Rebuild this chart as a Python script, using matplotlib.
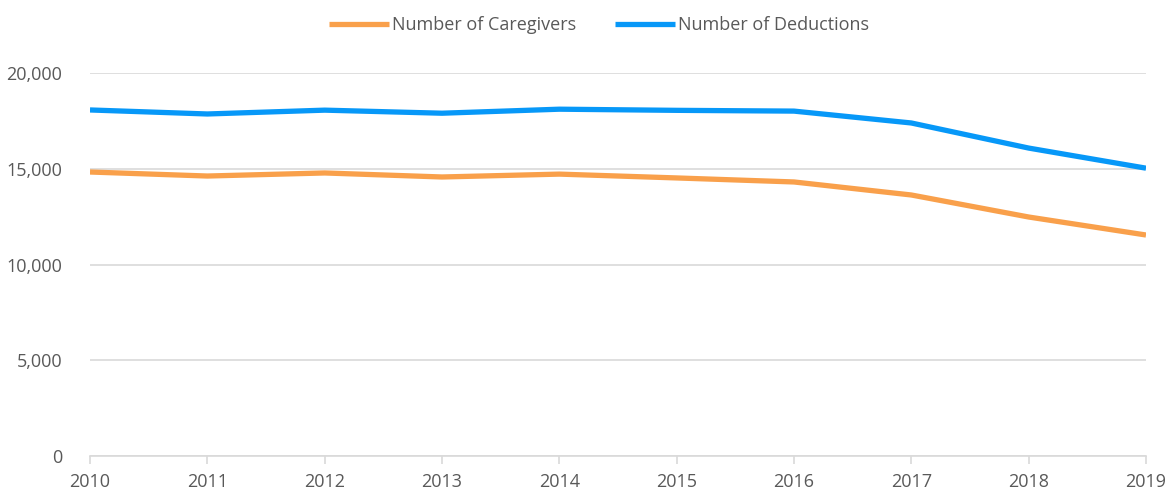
import numpy as np
import matplotlib.pyplot as plt
from matplotlib.ticker import FuncFormatter

plt.rcParams['font.family'] = ['Open Sans', 'DejaVu Sans']

# ----------------------------------------
# DATA
# ----------------------------------------
years = [2010, 2011, 2012, 2013, 2014, 2015, 2016, 2017, 2018, 2019]
caregivers = [14830, 14620, 14780, 14570, 14720, 14520, 14310, 13630, 12480, 11540]
deductions = [18070, 17860, 18060, 17900, 18110, 18050, 18010, 17390, 16080, 15030]

text_col = '#595959'
grid_col = '#d9d9d9'

# ----------------------------------------
# PLOT
# ----------------------------------------
fig = plt.figure(figsize=(11.7, 4.92), dpi=100)
ax = fig.add_axes([90 / 1170, 1 - 456 / 492, (1146 - 90) / 1170, (456 - 73) / 492])

ax.plot(years, caregivers, color='#F9A04B', lw=3.8, label='Number of Caregivers',
        solid_capstyle='butt', solid_joinstyle='round')
ax.plot(years, deductions, color='#0798F8', lw=3.8, label='Number of Deductions',
        solid_capstyle='butt', solid_joinstyle='round')

ax.set_xlim(2010, 2019)
ax.set_ylim(0, 20000)
ax.set_xticks(years)
ax.set_yticks(np.arange(0, 20001, 5000))
ax.yaxis.set_major_formatter(FuncFormatter(lambda v, p: f"{int(v):,}"))

ax.grid(axis='y', color=grid_col, lw=1.2)
ax.set_axisbelow(True)
for s in ['top', 'right', 'left']:
    ax.spines[s].set_visible(False)
ax.spines['bottom'].set_color(grid_col)
ax.spines['bottom'].set_linewidth(1.2)

ax.tick_params(axis='y', length=0, pad=20, labelsize=13, labelcolor=text_col)
ax.tick_params(axis='x', length=6, width=1.2, color=grid_col, direction='out',
               pad=6, labelsize=13, labelcolor=text_col)

leg = fig.legend(loc='upper center', bbox_to_anchor=(0.512, 1.0), ncol=2, frameon=False,
                 fontsize=13, handlelength=3.3, handletextpad=0.15, columnspacing=2.2)
for t in leg.get_texts():
    t.set_color(text_col)

fig.savefig('out.png', dpi=100)
